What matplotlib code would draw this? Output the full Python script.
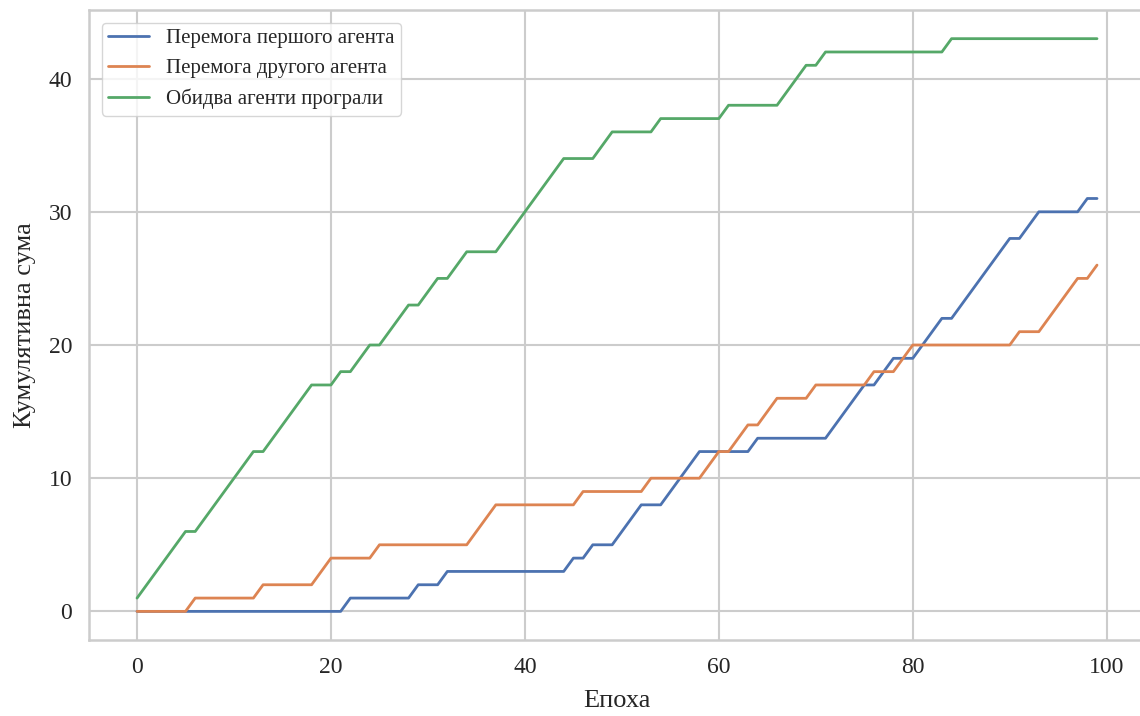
import matplotlib
matplotlib.use("Agg")
import matplotlib.pyplot as plt
import seaborn as sns
import numpy as np

# накопичені результати по епохах (0..99)
epochs = np.arange(100)

first_agent_wins = [
    0, 0, 0, 0, 0, 0, 0, 0, 0, 0,
    0, 0, 0, 0, 0, 0, 0, 0, 0, 0,
    0, 0, 1, 1, 1, 1, 1, 1, 1, 2,
    2, 2, 3, 3, 3, 3, 3, 3, 3, 3,
    3, 3, 3, 3, 3, 4, 4, 5, 5, 5,
    6, 7, 8, 8, 8, 9, 10, 11, 12, 12,
    12, 12, 12, 12, 13, 13, 13, 13, 13, 13,
    13, 13, 14, 15, 16, 17, 17, 18, 19, 19,
    19, 20, 21, 22, 22, 23, 24, 25, 26, 27,
    28, 28, 29, 30, 30, 30, 30, 30, 31, 31,
]

second_agent_wins = [
    0, 0, 0, 0, 0, 0, 1, 1, 1, 1,
    1, 1, 1, 2, 2, 2, 2, 2, 2, 3,
    4, 4, 4, 4, 4, 5, 5, 5, 5, 5,
    5, 5, 5, 5, 5, 6, 7, 8, 8, 8,
    8, 8, 8, 8, 8, 8, 9, 9, 9, 9,
    9, 9, 9, 10, 10, 10, 10, 10, 10, 11,
    12, 12, 13, 14, 14, 15, 16, 16, 16, 16,
    17, 17, 17, 17, 17, 17, 18, 18, 18, 19,
    20, 20, 20, 20, 20, 20, 20, 20, 20, 20,
    20, 21, 21, 21, 22, 23, 24, 25, 25, 26,
]

both_lost = [
    1, 2, 3, 4, 5, 6, 6, 7, 8, 9,
    10, 11, 12, 12, 13, 14, 15, 16, 17, 17,
    17, 18, 18, 19, 20, 20, 21, 22, 23, 23,
    24, 25, 25, 26, 27, 27, 27, 27, 28, 29,
    30, 31, 32, 33, 34, 34, 34, 34, 35, 36,
    36, 36, 36, 36, 37, 37, 37, 37, 37, 37,
    37, 38, 38, 38, 38, 38, 38, 39, 40, 41,
    41, 42, 42, 42, 42, 42, 42, 42, 42, 42,
    42, 42, 42, 42, 43, 43, 43, 43, 43, 43,
    43, 43, 43, 43, 43, 43, 43, 43, 43, 43,
]

labels = ["Перемога першого агента", "Перемога другого агента", "Обидва агенти програли"]

sns.set_style("whitegrid")
plt.rcParams["font.family"] = ["Liberation Serif", "DejaVu Serif"]
plt.rcParams["axes.edgecolor"] = "#cccccc"
plt.rcParams["grid.color"] = "#cccccc"

colors = sns.color_palette("deep")

fig = plt.figure(figsize=(11.4, 7.16), dpi=100)
# права межа осей виходить за край полотна
ax = fig.add_axes([0.0781, 0.1061, 0.9263, 0.8799])

for series, label, c in zip([first_agent_wins, second_agent_wins, both_lost], labels, colors):
    ax.plot(epochs, series, color=c, linewidth=2, label=label)

ax.set_xlabel("Епоха", fontsize=19, color="#262626", labelpad=9)
ax.set_ylabel("Кумулятивна сума", fontsize=19, color="#262626", labelpad=9)
ax.tick_params(axis="both", labelsize=17, pad=12, length=0, labelcolor="#262626")
ax.set_xticks([0, 20, 40, 60, 80, 100])
ax.set_yticks([0, 10, 20, 30, 40])
ax.set_xlim(-4.95, 103.95)
ax.grid(True, linewidth=1.5)
for s in ax.spines.values():
    s.set_linewidth(1.8)
ax.spines["right"].set_visible(False)

ax.legend(loc="upper left", fontsize=15, frameon=True, handlelength=2.0,
          borderpad=0.3, borderaxespad=0.6)

fig.savefig("out.png", dpi=100)
